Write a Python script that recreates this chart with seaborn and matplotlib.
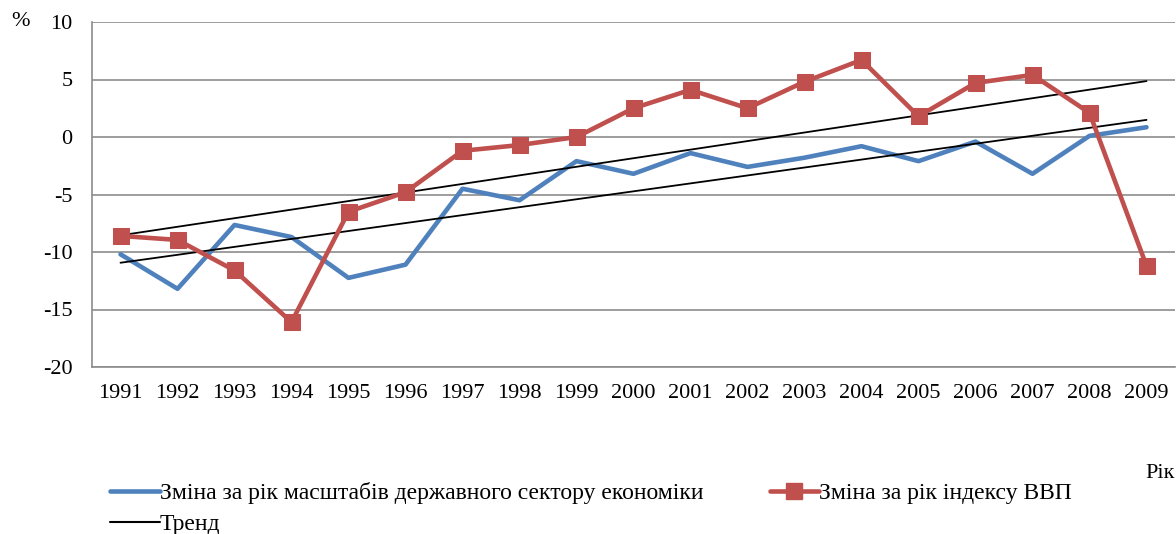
import matplotlib
matplotlib.use("Agg")
import matplotlib.pyplot as plt
import seaborn as sns
import numpy as np
import pandas as pd
from matplotlib.lines import Line2D

years = [1991, 1992, 1993, 1994, 1995, 1996, 1997, 1998, 1999, 2000,
         2001, 2002, 2003, 2004, 2005, 2006, 2007, 2008, 2009]
state_sector = [-10.2, -13.2, -7.65, -8.7, -12.25, -11.1, -4.5, -5.5, -2.1, -3.2,
                -1.4, -2.6, -1.8, -0.8, -2.1, -0.4, -3.2, 0.1, 0.85]
gdp_index = [-8.6, -8.95, -11.6, -16.1, -6.5, -4.8, -1.2, -0.7, 0.0, 2.5,
             4.1, 2.5, 4.8, 6.7, 1.8, 4.7, 5.4, 2.1, -11.2]

label_state = "Зміна за рік масштабів державного сектору економіки"
label_gdp = "Зміна за рік індексу ВВП"
label_trend = "Тренд"

df = pd.DataFrame({"pos": np.arange(len(years)), "year": years,
                   "state": state_sector, "gdp": gdp_index})

sns.set_theme(style="white")
plt.rcParams['font.family'] = ['Liberation Serif', 'DejaVu Serif']
plt.rcParams['text.color'] = 'black'
plt.rcParams['xtick.labelcolor'] = 'black'
plt.rcParams['ytick.labelcolor'] = 'black'

blue = "#4F81BD"
red = "#C0504D"
grid_c = "#8C8C8C"

fig = plt.figure(figsize=(11.76, 5.34), dpi=100)
ax = fig.add_axes([92/1176, 1-367/534, (1175-92)/1176, (367-22)/534])

sns.regplot(data=df, x="pos", y="state", ax=ax, scatter=False, ci=None,
            line_kws=dict(color="black", lw=1.3, zorder=3))
sns.regplot(data=df, x="pos", y="gdp", ax=ax, scatter=False, ci=None,
            line_kws=dict(color="black", lw=1.3, zorder=3))
sns.lineplot(data=df, x="pos", y="state", ax=ax, color=blue, lw=3.3, zorder=2)
sns.lineplot(data=df, x="pos", y="gdp", ax=ax, color=red, lw=3.3, marker="s",
             markersize=12, markeredgecolor=red, zorder=4)

ax.set_xlim(-0.5, len(years) - 0.5)
ax.set_ylim(-20, 10)
ax.set_yticks(np.arange(-20, 11, 5))
ax.set_yticklabels([str(v) for v in range(-20, 11, 5)], fontsize=16, color="black")
ax.set_xticks(np.arange(-0.5, len(years), 1.0))
ax.set_xticklabels([])
ax.set_xticks(np.arange(len(years)), minor=True)
ax.set_xticklabels([str(y) for y in years], minor=True, fontsize=16, color="black")
ax.tick_params(axis="x", which="major", length=6, color=grid_c, width=1.2, direction="out")
ax.tick_params(axis="x", which="minor", length=0, pad=12)
ax.tick_params(axis="y", length=6, color=grid_c, width=1.2, direction="out", pad=8)
ax.set_xlabel("")
ax.set_ylabel("")
ax.yaxis.grid(True, color=grid_c, lw=1.2)
ax.set_axisbelow(True)
for s in ["top", "right"]:
    ax.spines[s].set_visible(False)
for s in ["left", "bottom"]:
    ax.spines[s].set_color(grid_c)
    ax.spines[s].set_linewidth(1.2)

fig.text(20/1176, 1-22/534, "%", fontsize=16, ha="center", va="center", color="black")
fig.text(1160/1176, 1-473/534, "Рік", fontsize=16, ha="center", va="center", color="black")

h_state = Line2D([], [], color=blue, lw=3.3)
h_gdp = Line2D([], [], color=red, lw=3.3, marker="s", markersize=12)
h_trend = Line2D([], [], color="black", lw=1.5)
fig.legend([h_state, h_trend, h_gdp], [label_state, label_trend, label_gdp],
           ncol=2, loc="upper left", bbox_to_anchor=(101/1176, 1-473/534),
           frameon=False, fontsize=17, handlelength=2.1, handletextpad=0.0,
           columnspacing=2.8, labelspacing=0.38, borderaxespad=0,
           labelcolor="black")

fig.savefig("out.png", dpi=100)
